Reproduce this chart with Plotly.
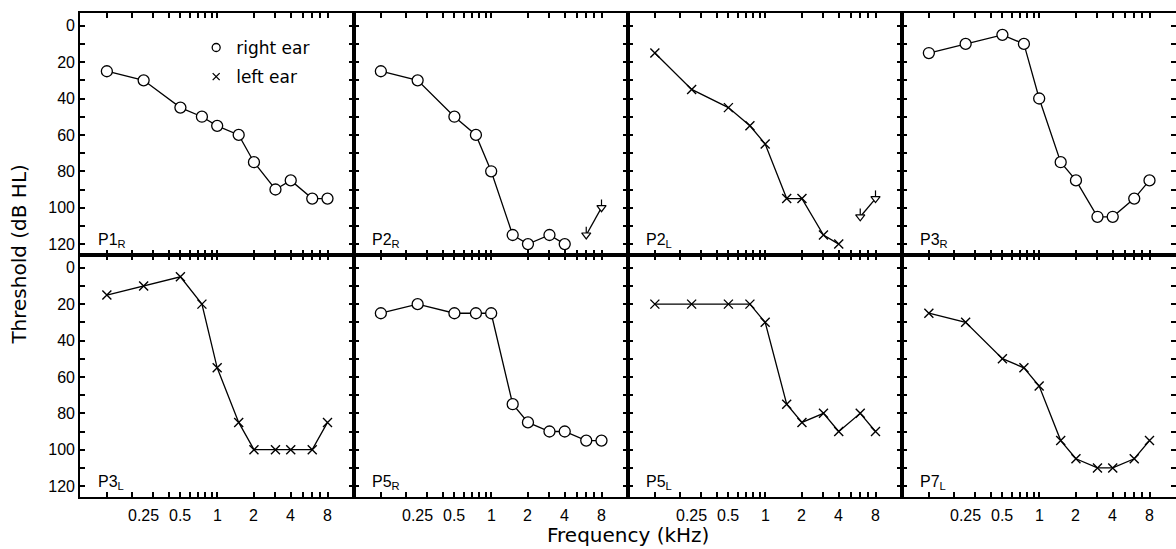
import math
import plotly.graph_objects as go
from plotly.subplots import make_subplots

# ---------------- data ----------------
freqs = [0.125, 0.25, 0.5, 0.75, 1, 1.5, 2, 3, 4, 6, 8]
freqs_to4 = [0.125, 0.25, 0.5, 0.75, 1, 1.5, 2, 3, 4]
nr_freqs = [6, 8]

p1_r = [25, 30, 45, 50, 55, 60, 75, 90, 85, 95, 95]
p2_r = [25, 30, 50, 60, 80, 115, 120, 115, 120]
p2_r_nr = [115, 100]
p2_l = [15, 35, 45, 55, 65, 95, 95, 115, 120]
p2_l_nr = [105, 95]
p3_r = [15, 10, 5, 10, 40, 75, 85, 105, 105, 95, 85]
p3_l = [15, 10, 5, 20, 55, 85, 100, 100, 100, 100, 85]
p5_r = [25, 20, 25, 25, 25, 75, 85, 90, 90, 95, 95]
p5_l = [20, 20, 20, 20, 30, 75, 85, 80, 90, 80, 90]
p7_l = [25, 30, 50, 55, 65, 95, 105, 110, 110, 105, 95]

panel_labels = ["P1<sub>R</sub>", "P2<sub>R</sub>", "P2<sub>L</sub>", "P3<sub>R</sub>",
                "P3<sub>L</sub>", "P5<sub>R</sub>", "P5<sub>L</sub>", "P7<sub>L</sub>"]
panel_ears = ["R", "R", "L", "R", "L", "R", "L", "L"]
panel_x = [freqs, freqs_to4, freqs_to4, freqs, freqs, freqs, freqs, freqs]
panel_y = [p1_r, p2_r, p2_l, p3_r, p3_l, p5_r, p5_l, p7_l]
panel_nr = [None, p2_r_nr, p2_l_nr, None, None, None, None, None]

x_tick_marks = [0.125, 0.2, 0.3, 0.4, 0.5, 0.6, 0.7, 0.8, 0.9, 1,
                2, 3, 4, 5, 6, 7, 8]
x_label_vals = [0.25, 0.5, 1, 2, 4, 8]
x_label_text = ["0.25", "0.5", "1", "2", "4", "8"]
y_tick_vals = list(range(0, 130, 10))
y_tick_text = [str(v) if v % 20 == 0 else "" for v in y_tick_vals]

legend_names = ["right ear", "left ear"]

# ---------------- figure ----------------
NUMFONT = "Liberation Sans"
TXTFONT = "DejaVu Sans"
fig = make_subplots(rows=2, cols=4, horizontal_spacing=0, vertical_spacing=0)

circle_marker = dict(symbol="circle", size=11, color="white",
                     line=dict(color="black", width=1.3))
cross_marker = dict(symbol="x-thin", size=9, color="black",
                    line=dict(color="black", width=1.4))

for i in range(8):
    r, c = i // 4 + 1, i % 4 + 1
    mk = circle_marker if panel_ears[i] == "R" else cross_marker
    fig.add_trace(go.Scatter(x=panel_x[i], y=panel_y[i], mode="lines+markers",
                             line=dict(color="black", width=1.3), marker=mk,
                             showlegend=False, hoverinfo="skip"), row=r, col=c)
    if panel_nr[i] is not None:
        fig.add_trace(go.Scatter(
            x=nr_freqs, y=panel_nr[i], mode="lines+markers",
            line=dict(color="black", width=1.3),
            marker=dict(symbol="triangle-down", size=8, color="white",
                        line=dict(color="black", width=1.2)),
            error_y=dict(type="data", symmetric=False, array=[0, 0],
                         arrayminus=[4.5, 4.5], width=0, thickness=1.2, color="black"),
            showlegend=False, hoverinfo="skip"), row=r, col=c)

# legend entries
fig.add_trace(go.Scatter(x=[None], y=[None], mode="markers", name=legend_names[0],
                         marker=dict(symbol="circle-open", size=8, color="black",
                                     line=dict(width=1.3)),
                         legendgroup="a"), row=1, col=1)
fig.add_trace(go.Scatter(x=[None], y=[None], mode="markers", name=legend_names[1],
                         marker=dict(symbol="x-thin", size=7, color="black",
                                     line=dict(color="black", width=1.3)),
                         legendgroup="b"), row=1, col=1)

XR = [-1.123, 1.12]
YR = [126, -7]

fig.update_layout(template="simple_white")

fig.update_xaxes(type="log", range=XR, showline=True, linewidth=1.6,
                 linecolor="black", mirror="ticks", ticks="inside",
                 tickmode="array", tickvals=x_tick_marks, ticklen=5,
                 tickwidth=1.5, tickcolor="black", showticklabels=False,
                 showgrid=False, zeroline=False)
fig.update_yaxes(range=YR, showline=True, linewidth=1.6, linecolor="black",
                 mirror="ticks", ticks="inside", tickmode="array",
                 tickvals=y_tick_vals, ticktext=y_tick_text, ticklen=5,
                 tickwidth=1.5, tickcolor="black", showticklabels=False,
                 showgrid=False, zeroline=False,
                 tickfont=dict(size=16, family=NUMFONT))
fig.update_yaxes(showticklabels=True, col=1)

def sfx(i):
    return "" if i == 1 else str(i)

# frequency labels under the bottom row, placed on each axis' log scale
for base in [5, 6, 7, 8]:
    for v, t in zip(x_label_vals, x_label_text):
        fig.add_annotation(text=t, xref=f"x{base}", yref=f"y{base} domain",
                           x=math.log10(v), y=-0.035, xanchor="center", yanchor="top",
                           showarrow=False, font=dict(size=16, family=NUMFONT))

for i in range(8):
    s = sfx(i + 1)
    fig.add_annotation(text=panel_labels[i], xref=f"x{s} domain", yref=f"y{s} domain",
                       x=0.06, y=0.012, xanchor="left", yanchor="bottom",
                       showarrow=False, font=dict(size=16, family=NUMFONT))

fig.add_annotation(text="Threshold (dB HL)", xref="paper", yref="paper",
                   x=-0.056, y=0.5, textangle=-90, showarrow=False,
                   xanchor="center", yanchor="middle",
                   font=dict(size=20, family=TXTFONT))
fig.add_annotation(text="Frequency (kHz)", xref="paper", yref="paper",
                   x=0.5, y=-0.078, showarrow=False, xanchor="center",
                   yanchor="middle", font=dict(size=20, family=TXTFONT))

fig.update_layout(
    width=1176, height=549,
    margin=dict(l=80, r=0, t=13, b=52, autoexpand=False),
    paper_bgcolor="white", plot_bgcolor="white",
    font=dict(family=NUMFONT, size=16, color="black"),
    showlegend=True,
    legend=dict(x=0.106, y=0.965, xanchor="left", yanchor="top",
                bgcolor="rgba(0,0,0,0)", font=dict(size=17, family=TXTFONT),
                tracegroupgap=4, traceorder="grouped",
                itemsizing="trace"),
)

fig.write_html("out.html", config={"displayModeBar": False},
               post_script="document.body.style.margin='0';document.body.style.overflow='hidden';")
